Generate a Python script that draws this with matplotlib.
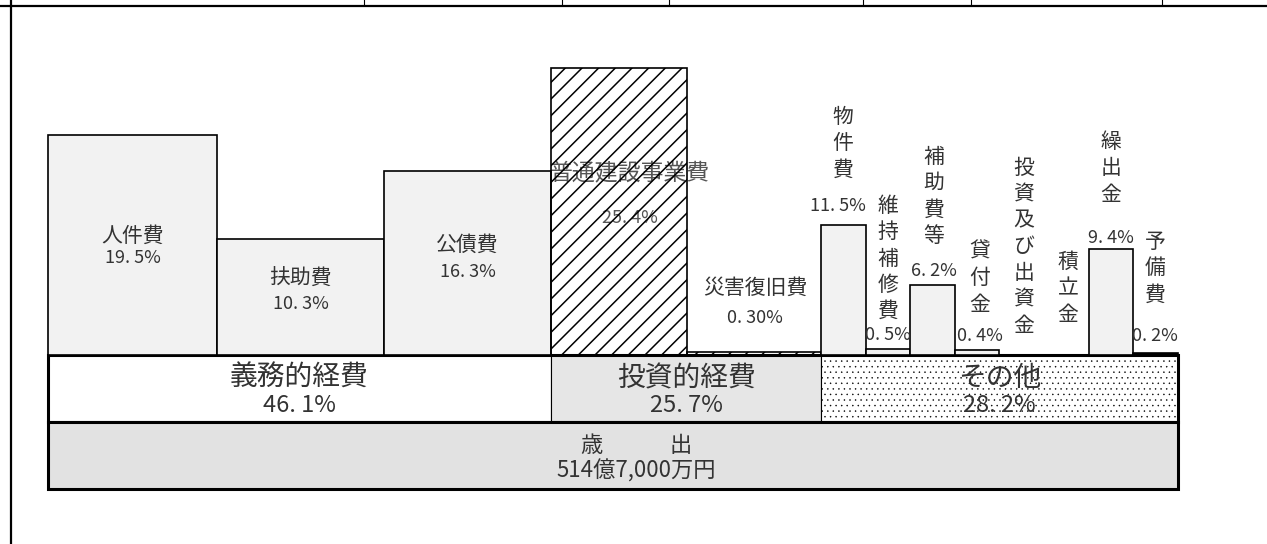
import matplotlib
matplotlib.use("Agg")
import matplotlib.pyplot as plt
from matplotlib.patches import Rectangle
import numpy as np

plt.rcParams["font.family"] = ["Noto Sans CJK JP", "DejaVu Sans"]
plt.rcParams["hatch.linewidth"] = 1.1

# --- data ---
items = ["人件費", "扶助費", "公債費", "普通建設事業費", "災害復旧費",
         "物件費", "維持補修費", "補助費等", "貸付金", "投資及び出資金",
         "積立金", "繰出金", "予備費"]
shares = [19.5, 10.3, 16.3, 25.4, 0.30, 11.5, 0.5, 6.2, 0.4, 0.0, 0.0, 9.4, 0.2]
share_labels = ["19. 5%", "10. 3%", "16. 3%", "25. 4%", "0. 30%", "11. 5%",
                "0. 5%", "6. 2%", "0. 4%", "", "", "9. 4%", "0. 2%"]
groups = ["義務的経費", "投資的経費", "その他"]
group_labels = ["46. 1%", "25. 7%", "28. 2%"]
group_counts = [3, 2, 8]
total_name = "歳　　　出"
total_label = "514億7,000万円"

# --- layout (pixels) ---
W, H = 1267, 544
X0 = 48
BASE = 355
PX_PER_PCT = 11.3
slot_w = [169, 167, 167, 136, 134] + [44.6] * 8
ROW1 = (355, 422)
ROW2 = (422, 489)
TXT = "#333333"
BAR_FILL = "#f2f2f2"

edges = X0 + np.concatenate([[0], np.cumsum(slot_w)])
centers = (edges[:-1] + edges[1:]) / 2

fig = plt.figure(figsize=(W / 100, H / 100), dpi=100)
fig.patch.set_facecolor("white")

# pixel axes for frame, rows (under the bars)
axp = fig.add_axes([0, 0, 1, 1])
axp.set_xlim(0, W)
axp.set_ylim(H, 0)
axp.axis("off")

# bar axes: x in pixels, y in percent
axb = fig.add_axes([0, (H - BASE) / H, 1, BASE / H])
axb.set_xlim(0, W)
axb.set_ylim(0, BASE / PX_PER_PCT)
axb.axis("off")
axb.patch.set_visible(False)

# text axes on top
axt = fig.add_axes([0, 0, 1, 1])
axt.set_xlim(0, W)
axt.set_ylim(H, 0)
axt.axis("off")
axt.patch.set_visible(False)

fills = [BAR_FILL] * 3 + ["none", "none"] + [BAR_FILL] * 8
fills[-1] = "black"
hatches = [None] * 3 + ["//", "//"] + [None] * 8
for i in range(len(items)):
    axb.bar(edges[i], shares[i], width=slot_w[i], align="edge",
            facecolor=fills[i], edgecolor="black", linewidth=1.2,
            hatch=hatches[i], zorder=3)

# --- outer frame decoration ---
axp.plot([0, W], [5.5, 5.5], color="black", lw=1.6)
axp.plot([11, 11], [0, H], color="black", lw=1.6)
for tx in [364, 562, 669, 863, 971, 1162]:
    axp.plot([tx, tx], [0, 5], color="black", lw=0.8)

# --- group row ---
gi = np.concatenate([[0], np.cumsum(group_counts)])
g_fill = ["white", "#e6e6e6", "white"]
g_hatch = [None, None, "..."]
for k, g in enumerate(groups):
    gx0, gx1 = edges[gi[k]], edges[gi[k + 1]]
    with plt.rc_context({"hatch.linewidth": 0.3}):
        rect = Rectangle((gx0, ROW1[0]), gx1 - gx0, ROW1[1] - ROW1[0],
                         facecolor=g_fill[k], edgecolor="black",
                         linewidth=0.8, hatch=g_hatch[k], zorder=1)
    if hasattr(rect, "set_hatch_linewidth"):
        rect.set_hatch_linewidth(0.3)
    axp.add_patch(rect)
    cx = (gx0 + gx1) / 2
    axt.text(cx, 378, g, ha="center", va="center", fontsize=20, color=TXT)
    axt.text(cx, 405, group_labels[k], ha="center", va="center", fontsize=17,
             color=TXT)

axp.add_patch(Rectangle((edges[0], ROW1[0]), edges[-1] - edges[0], ROW1[1] - ROW1[0],
                        facecolor="none", edgecolor="black", linewidth=2.2, zorder=2))

# --- total row ---
axp.add_patch(Rectangle((edges[0], ROW2[0]), edges[-1] - edges[0], ROW2[1] - ROW2[0],
                        facecolor="#e2e2e2", edgecolor="black", linewidth=2.2, zorder=2))
axt.text(637, 446, total_name, ha="center", va="center", fontsize=16, color=TXT)
axt.text(636, 471, total_label, ha="center", va="center", fontsize=16, color=TXT)

# --- wide bar labels (name / pct) ---
wide_pos = {0: (236, 258), 1: (278, 304), 2: (245, 272), 3: (173, 218), 4: (288, 318)}
wide_x = {3: 630, 4: 755}
for i, (yn, yp) in wide_pos.items():
    cx = wide_x.get(i, centers[i])
    # the 普通建設事業費 label sits under the hatching
    target = axp if i == 3 else axt
    col = "#555555" if i == 3 else TXT
    fs = 16.5 if i == 3 else 15
    target.text(cx, yn, items[i], ha="center", va="center", fontsize=fs, color=col)
    target.text(cx, yp, share_labels[i], ha="center", va="center", fontsize=13,
                color=col)

# --- narrow bar labels (vertical characters) ---
name_top = {5: 117, 6: 206, 7: 157, 8: 252, 9: 168, 10: 262, 11: 142, 12: 242}
pct_pos = {5: (838, 206), 6: (888, 335), 7: (934, 271), 8: (980, 336),
           11: (1111, 238), 12: (1155, 336)}
name_x = {5: 843, 6: 888, 7: 934, 8: 980, 9: 1024, 10: 1068, 11: 1111, 12: 1155}
for i, y0 in name_top.items():
    for k, ch in enumerate(items[i]):
        axt.text(name_x[i], y0 + k * 26.3, ch, ha="center", va="center",
                 fontsize=15, color=TXT)
for i, (px, py) in pct_pos.items():
    axt.text(px, py, share_labels[i], ha="center", va="center", fontsize=13,
             color=TXT)

fig.savefig("out.png", dpi=100, facecolor="white")
